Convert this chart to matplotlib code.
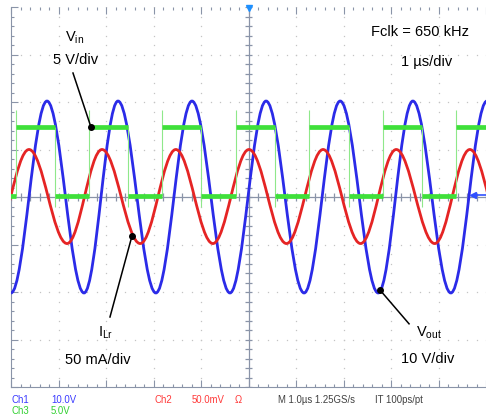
import numpy as np
import matplotlib
matplotlib.use("Agg")
import matplotlib.pyplot as plt
from matplotlib.path import Path
from matplotlib.patches import PathPatch

plt.rcParams['font.family'] = ['Liberation Sans', 'DejaVu Sans']
plt.rcParams['mathtext.fontset'] = 'custom'
plt.rcParams['mathtext.rm'] = 'Liberation Sans'
plt.rcParams['mathtext.it'] = 'Liberation Sans'

# scope traces (x in us = divisions, y in divisions)
vout_t = [0.0, 0.758, 1.537, 2.253, 3.05, 3.81, 4.61, 5.37, 6.17, 6.93, 7.73, 8.46, 9.26, 10.02]
vout_y = [-2.02, 2.02, -2.02, 2.02, -2.02, 2.02, -2.02, 2.02, -2.02, 2.02, -2.02, 2.02, -2.02, 2.02]

ilr_t = [-0.39, 0.379, 1.18, 1.916, 2.72, 3.47, 4.25, 5.01, 5.80, 6.57, 7.36, 8.11, 8.92, 9.66, 10.44]
ilr_y = [-0.98, 1.0, -0.98, 1.0, -0.98, 1.0, -0.98, 1.0, -0.98, 1.0, -0.98, 1.0, -0.98, 1.0, -0.98]

vin_rise = [0.105, 1.642, 3.18, 4.74, 6.27, 7.83, 9.37]
vin_fall = [0.926, 2.46, 4.00, 5.56, 7.12, 8.65, 10.2]
vin_high = 1.47
vin_low = 0.02
vin_spike = 1.83

BLUE = '#2b2be8'
RED = '#e52424'
GREEN = '#3fe03a'
FRAME = '#8a94a8'


def smooth_path(ts, ys):
    # half cycles between extrema as cubic curves with flat tangents
    a = 1 - 2 / np.pi
    verts = [(ts[0], ys[0])]
    codes = [Path.MOVETO]
    for i in range(len(ts) - 1):
        w = ts[i + 1] - ts[i]
        verts += [(ts[i] + a * w, ys[i]), (ts[i + 1] - a * w, ys[i + 1]), (ts[i + 1], ys[i + 1])]
        codes += [Path.CURVE4] * 3
    return Path(verts, codes)


fig = plt.figure(figsize=(4.86, 4.17), dpi=100)
ax = fig.add_axes([11 / 486, 30 / 417, 475 / 486, 380 / 417])
ax.set_xlim(0, 10)
ax.set_ylim(-4, 4)

# graticule
for s in ['top', 'right']:
    ax.spines[s].set_visible(False)
for s in ['left', 'bottom']:
    ax.spines[s].set_color(FRAME)
ax.set_xticks(range(11))
ax.set_yticks(range(-4, 5))
ax.set_xticks(np.arange(0, 10.01, 0.2), minor=True)
ax.set_yticks(np.arange(-4, 4.01, 0.2), minor=True)
ax.tick_params(which='both', direction='in', top=True, bottom=True, left=True, right=False,
               labelleft=False, labelbottom=False, color=FRAME)
ax.tick_params(which='major', length=5, width=0.8)
ax.tick_params(which='minor', length=2.2, width=0.8)

dots = np.arange(0, 10.01, 0.2)
for gy in [-3, -2, -1, 1, 2, 3]:
    ax.plot(dots, np.full_like(dots, gy), ls='none', marker='s', ms=0.9, mew=0,
            color='#c4c4c4', zorder=1)
dots_y = np.arange(-4, 4.01, 0.2)
for gx in [1, 2, 3, 4, 6, 7, 8, 9]:
    ax.plot(np.full_like(dots_y, gx), dots_y, ls='none', marker='s', ms=0.9, mew=0,
            color='#c4c4c4', zorder=1)

ax.axhline(0, color=FRAME, lw=0.9, zorder=1)
ax.axvline(5, color=FRAME, lw=0.9, zorder=1)
ax.vlines(dots, -0.08, 0.08, color=FRAME, lw=0.9, zorder=1)
ax.hlines(dots_y, 4.92, 5.08, color=FRAME, lw=0.9, zorder=1)

# traces
ax.add_patch(PathPatch(smooth_path(vout_t, vout_y), fill=False, edgecolor=BLUE, lw=2.0, zorder=3))
ax.add_patch(PathPatch(smooth_path(ilr_t, ilr_y), fill=False, edgecolor=RED, lw=2.0, zorder=4))

lows_start = [-0.6] + vin_fall[:-1]
n = len(vin_rise)
ax.vlines(vin_rise, [vin_low] * n, [vin_spike] * n, color='#8fe88a', lw=0.8, zorder=5)
ax.vlines(vin_fall, [-0.2] * n, [vin_high] * n, color='#8fe88a', lw=0.8, zorder=5)
ax.hlines([vin_high] * n, vin_rise, vin_fall, color=GREEN, lw=3.4, zorder=6)
ax.hlines([vin_low] * n, lows_start, vin_rise, color=GREEN, lw=3.4, zorder=6)

# markers at the screen edges
ax.plot(5, 3.97, marker='v', color='#1e90ff', ms=5, clip_on=False, zorder=7)
ax.plot([9.72, 10], [0.05, 0.05], color='#3050ff', lw=1.2, clip_on=False, zorder=7)
ax.plot(9.72, 0.05, marker='<', color='#3050ff', ms=4, clip_on=False, zorder=7)

# annotations
ax.plot([1.305, 1.684], [2.61, 1.47], color='k', lw=1.1, zorder=8)
ax.plot(1.684, 1.47, 'ko', ms=4, zorder=8)
ax.plot([2.084, 2.547], [-2.526, -0.82], color='k', lw=1.1, zorder=8)
ax.plot(2.547, -0.82, 'ko', ms=4, zorder=8)
ax.plot([8.38, 7.77], [-2.67, -1.96], color='k', lw=1.1, zorder=8)
ax.plot(7.77, -1.96, 'ko', ms=4, zorder=8)

fs = 10.5
ax.text(1.33, 3.35, r'V$_{\mathrm{in}}$', fontsize=fs, ha='center', va='center')
ax.text(1.35, 2.88, '5 V/div', fontsize=fs, ha='center', va='center')
ax.text(8.61, 3.47, 'Fclk = 650 kHz', fontsize=fs, ha='center', va='center')
ax.text(8.76, 2.84, '1 µs/div', fontsize=fs, ha='center', va='center')
ax.text(2.0, -2.86, r'I$_{\mathrm{Lr}}$', fontsize=fs, ha='center', va='center')
ax.text(1.82, -3.43, '50 mA/div', fontsize=fs, ha='center', va='center')
ax.text(8.8, -2.86, r'V$_{\mathrm{out}}$', fontsize=fs, ha='center', va='center')
ax.text(8.78, -3.41, '10 V/div', fontsize=fs, ha='center', va='center')

# status line
sfs = 6.9
def status(px, py, s, c):
    fig.text(px / 486, 1 - py / 417, s, fontsize=sfs, color=c, ha='left', va='center')

status(11, 400, 'Ch1', '#3a3aff')
status(51, 400, '10.0V', '#3a3aff')
status(154, 400, 'Ch2', '#ff3a3a')
status(192, 400, '50.0mV', '#ff3a3a')
status(235, 400, 'Ω', '#ff3a3a')
status(278, 400, 'M 1.0µs 1.25GS/s', '#404040')
status(375, 400, 'IT 100ps/pt', '#404040')
status(11, 411, 'Ch3', '#30d030')
status(51, 411, '5.0V', '#30d030')

fig.savefig('out.png', dpi=100)
